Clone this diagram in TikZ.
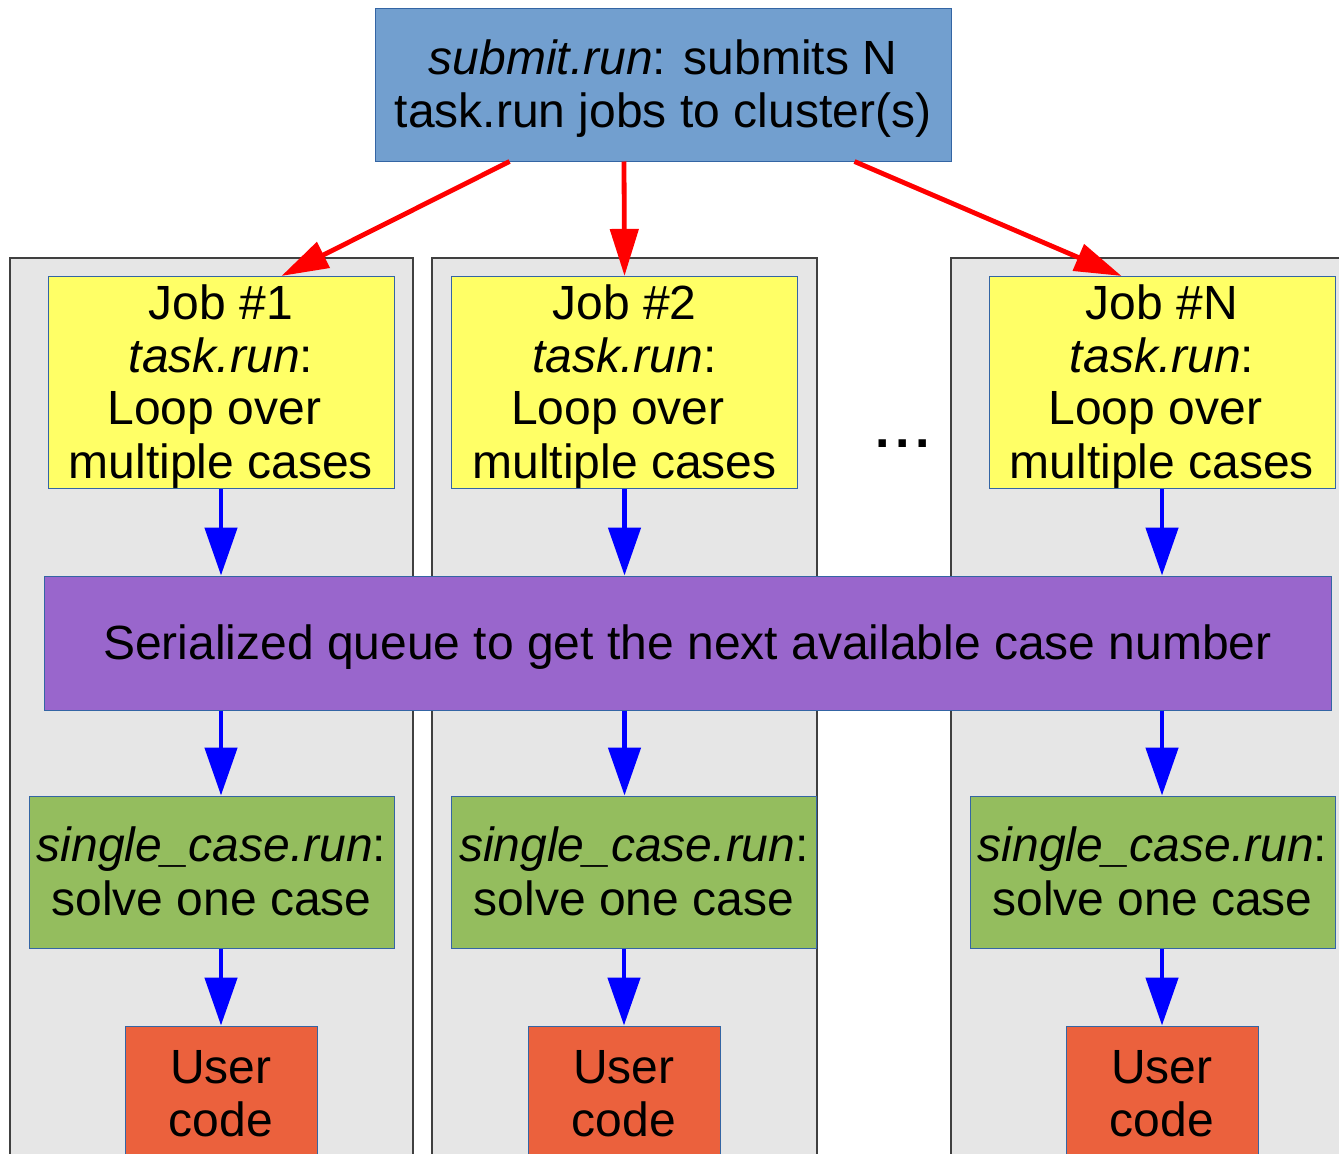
\documentclass[tikz,border=0pt]{standalone}
\usepackage{fontspec}
\setmainfont{Liberation Sans}
\usetikzlibrary{arrows.meta,calc}
\definecolor{topblue}{HTML}{729FCF}
\definecolor{bordblue}{HTML}{3465A4}
\definecolor{jobyellow}{HTML}{FFFF66}
\definecolor{queuepurple}{HTML}{9966CC}
\definecolor{casegreen}{HTML}{94BD5E}
\definecolor{userorange}{HTML}{EB613D}
\definecolor{colgray}{HTML}{E6E6E6}
\definecolor{coldark}{HTML}{404040}
\newcommand\ls{\rule[-9.6pt]{0pt}{52.6pt}}
\begin{document}
\begin{tikzpicture}[x=1pt,y=-1pt,
  every node/.style={font=\fontsize{48}{52.6}\selectfont, inner sep=0pt, align=center},
  box/.style={rectangle, draw=bordblue, line width=1pt},
  topbox/.style={box, fill=topblue, minimum width=576pt, minimum height=153pt},
  jobbox/.style={box, fill=jobyellow, minimum width=346pt, minimum height=211pt},
  queuebox/.style={box, fill=queuepurple, minimum width=1287pt, minimum height=134pt},
  casebox/.style={box, fill=casegreen, minimum width=365pt, minimum height=152pt},
  userbox/.style={box, fill=userorange, minimum width=192pt, minimum height=135pt},
  colbox/.style={fill=colgray, draw=coldark, line width=1.2pt},
  redarrow/.style={draw=red, line width=4.8pt, -{Triangle[length=47pt,width=28pt]}},
  bluearrow/.style={draw=blue, line width=4.8pt, -{Triangle[length=48pt,width=32pt]}}
]
\useasboundingbox (0,0) rectangle (1339,1154);
\clip (0,0) rectangle (1339,1154);
\fill[white] (0,0) rectangle (1339,1154);

% columns
\draw[colbox] (10,258) rectangle (413,1185);
\draw[colbox] (432,258) rectangle (817,1185);
\draw[colbox] (951,258) rectangle (1370,1185);

% top
\node[topbox] (top) at (663,84.5) {\ls\textit{submit.run}: submits N\\\ls task.run jobs to cluster(s)};

% jobs
\node[jobbox] (j1) at (221,382.5) {\ls Job \#1\\\ls\textit{task.run}:\\\ls Loop over\kern13.3pt\\\ls multiple cases};
\node[jobbox] (j2) at (624.5,382.5) {\ls Job \#2\\\ls\textit{task.run}:\\\ls Loop over\kern13.3pt\\\ls multiple cases};
\node[jobbox] (j3) at (1162,382.5) {\ls Job \#N\\\ls\textit{task.run}:\\\ls Loop over\kern13.3pt\\\ls multiple cases};

\node[anchor=base, font=\fontsize{52}{56}\selectfont\bfseries] (dots) at (903,447) {.\hspace{5.5pt}.\hspace{5.5pt}.};

% queue
\node[queuebox] (queue) at (687.5,643) {\ls Serialized queue to get the next available case number};

% single cases
\node[casebox] (g1) at (211.5,872) {\ls\textit{single\_case.run}:\\\ls solve one case};
\node[casebox] (g2) at (634,872) {\ls\textit{single\_case.run}:\\\ls solve one case};
\node[casebox] (g3) at (1152.5,872) {\ls\textit{single\_case.run}:\\\ls solve one case};

% user code
\node[userbox] (u1) at (221,1093.5) {\ls User\\\ls code};
\node[userbox] (u2) at (624,1093.5) {\ls User\\\ls code};
\node[userbox] (u3) at (1162,1093.5) {\ls User\\\ls code};

% red arrows
\coordinate (s1) at ($(top.south west)+(135,0)$);
\coordinate (s2) at ($(top.south west)+(249.5,0)$);
\coordinate (s3) at ($(top.south west)+(480,0)$);
\coordinate (e1) at ($(j1.north west)+(234,0)$);
\coordinate (e3) at ($(j3.north west)+(133,0)$);
\draw[redarrow] (s1) -- (e1);
\draw[redarrow] (s2) -- (j2.north);
\draw[redarrow] (s3) -- (e3);

% blue arrows
\foreach \j/\g/\u in {j1/g1/u1, j2/g2/u2, j3/g3/u3}{
  \draw[bluearrow] (\j.south) -- (\j.south |- queue.north);
  \draw[bluearrow] (queue.south -| \j.south) -- (\g.north -| \j.south);
  \draw[bluearrow] (\g.south -| \u.north) -- (\u.north);
}
\end{tikzpicture}
\end{document}
